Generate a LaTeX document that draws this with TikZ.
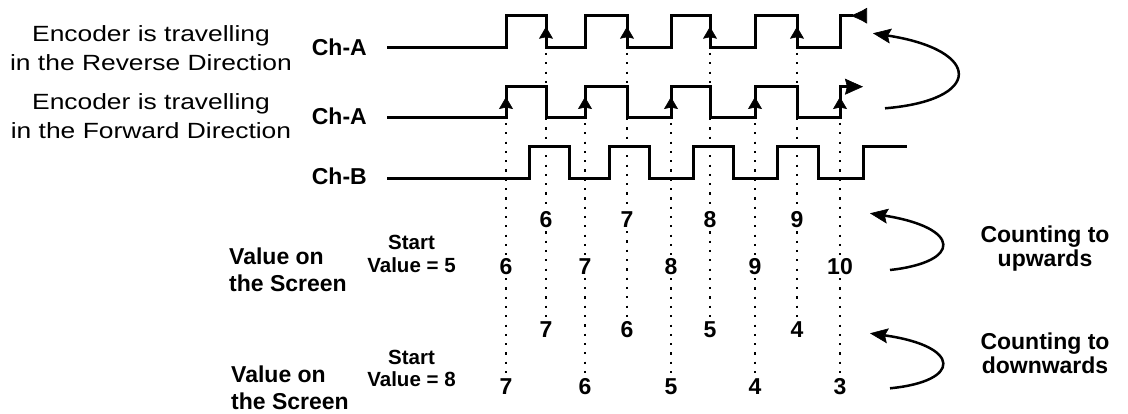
\documentclass[tikz,border=0pt]{standalone}
\usepackage{fontspec}
\setmainfont{Liberation Sans}
\newfontfamily\widesans[FakeStretch=1.2]{Liberation Sans}
\usetikzlibrary{arrows.meta}

\begin{document}
\begin{tikzpicture}[x=1pt, y=-1pt,
    wave/.style={line width=3pt, line join=miter},
    edgetip/.style={line width=3pt, -{Stealth[length=12pt, width=14pt, inset=1.5pt, line width=0.6pt]}},
    dots/.style={line width=2.2pt, dash pattern=on 2.2pt off 7.1pt},
    chan/.style={font=\bfseries\fontsize{23}{27}\selectfont, anchor=east, inner sep=0pt},
    desc/.style={font=\widesans\fontsize{22}{29}\selectfont, align=center, inner sep=0pt},
    digit/.style={font=\bfseries\fontsize{23}{27}\selectfont, inner sep=3pt},
    start/.style={font=\bfseries\fontsize{20.5}{22.7}\selectfont, align=center, inner sep=0pt},
    screen/.style={font=\bfseries\fontsize{23}{26.7}\selectfont, align=left, anchor=west, inner sep=0pt},
    count/.style={font=\bfseries\fontsize{23}{24}\selectfont, align=center, inner sep=0pt},
    turn/.style={line width=2.5pt, -{Stealth[length=18pt, width=15pt, inset=3pt, line width=0.6pt]}}]
    \useasboundingbox (0,0) rectangle (1128,414);

    % left hand texts
    \node[desc] (rev) at (151,48.3) {Encoder is travelling\\in the Reverse Direction};
    \node[desc] (fwd) at (151,115.9) {Encoder is travelling\\in the Forward Direction};
    \node[chan] (cha1) at (367,47.2) {Ch-A};
    \node[chan] (cha2) at (367,116.3) {Ch-A};
    \node[chan] (chb) at (367,176.7) {Ch-B};

    \node[screen] (screen1) at (229,270) {Value on\\the Screen};
    \node[screen] (screen2) at (231,388) {Value on\\the Screen};
    \node[start] (start1) at (411.5,254) {Start\\Value = 5};
    \node[start] (start2) at (411.5,368.5) {Start\\Value = 8};

    % counts on the falling and rising edges
    \foreach \x/\u/\d [count=\i] in {546/6/7, 627/7/6, 710/8/5, 797/9/4} {
        \coordinate (fall\i) at (\x,53);
        \node[digit] (fup\i) at (\x,220) {\u};
        \node[digit] (fdown\i) at (\x,330) {\d};
        \draw[dots] (fall\i) -- (fup\i) -- (fdown\i);
    }
    \foreach \x/\u/\d [count=\i] in {506/6/7, 585/7/6, 671/8/5, 755/9/4, 840/10/3} {
        \coordinate (rise\i) at (\x,123);
        \node[digit] (rup\i) at (\x,266.7) {\u};
        \node[digit] (rdown\i) at (\x,386.5) {\d};
        \draw[dots] (rise\i) -- (rup\i) -- (rdown\i);
    }

    % the three channels
    \draw[wave, -{Latex[reversed, length=17pt, width=16pt, line width=0.6pt]}] (387,47.7)
        \foreach \r/\f in {506/546, 585/627, 671/710, 755/797} {-- (\r,47.7) -- (\r,15.7) -- (\f,15.7) -- (\f,47.7)}
        -- (840,47.7) -- (840,15.7) -- (867,15.7);
    \draw[wave, -{Stealth[length=18pt, width=16pt, inset=2pt, line width=0.6pt]}] (387,117.3)
        \foreach \r/\f in {506/546, 585/627, 671/710, 755/797} {-- (\r,117.3) -- (\r,86.7) -- (\f,86.7) -- (\f,117.3)}
        -- (840,117.3) -- (840,86.7) -- (863,86.7);
    \draw[wave] (387,179)
        \foreach \r/\f in {529/569, 609/649, 693/733, 777/818} {-- (\r,179) -- (\r,146.7) -- (\f,146.7) -- (\f,179)}
        -- (863,179) -- (863,146.7) -- (907,146.7);

    \foreach \x in {546,627,710,797} \draw[edgetip] (\x,45) -- (\x,26.7);
    \foreach \x in {506,585,671,755,840} \draw[edgetip] (\x,115) -- (\x,97);

    % direction arrows
    \node[count] (up) at (1045,249) {Counting to\\upwards};
    \node[count] (down) at (1045,353.4) {Counting to\\downwards};

    \coordinate (revfrom) at (885,108.3);
    \coordinate (revto) at (873,33.3);
    \coordinate (upfrom) at (890,270);
    \coordinate (upto) at (870,213.3);
    \coordinate (downfrom) at (890,388.3);
    \coordinate (downto) at (870,333.3);
    \draw[turn] (revfrom) .. controls +(98,-8) and +(110,17) .. (revto);
    \draw[turn] (upfrom) .. controls +(72,-8) and +(92,14.7) .. (upto);
    \draw[turn] (downfrom) .. controls +(72,-7) and +(92,13) .. (downto);
\end{tikzpicture}
\end{document}
